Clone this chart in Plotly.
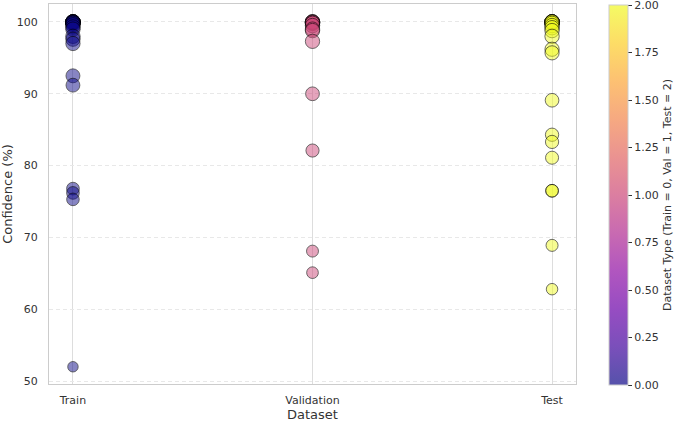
import plotly.graph_objects as go
import numpy as np

categories = ["Train", "Validation", "Test"]

train_conf = [100, 100, 100, 100, 100, 100, 100, 99.9, 99.8, 99.6, 99.3, 99.0,
              98.0, 97.6, 97.0, 92.5, 91.2, 76.8, 76.2, 75.3, 52.0]
val_conf = [100, 100, 100, 99.9, 99.8, 99.5, 99.0, 98.8, 97.3, 90.0, 82.1, 68.1, 65.1]
test_conf = [100, 100, 100, 100, 100, 100, 99.8, 99.5, 99.2, 98.8, 98.0, 96.2, 95.7,
             89.1, 84.3, 83.3, 81.1, 76.5, 76.5, 68.9, 62.8]

cbar_ticks = [0.0, 0.25, 0.5, 0.75, 1.0, 1.25, 1.5, 1.75, 2.0]
y_ticks = [50, 60, 70, 80, 90, 100]

x_vals = [0] * len(train_conf) + [1] * len(val_conf) + [2] * len(test_conf)
y_vals = train_conf + val_conf + test_conf
codes = x_vals

plasma = ["#0d0887", "#41049d", "#6a00a8", "#8f0da4", "#b12a90", "#cc4778",
          "#e16462", "#f2844b", "#fca636", "#fcce25", "#f0f921"]


def rgba(h, a=0.7):
    h = h.lstrip("#")
    r, g, b = int(h[0:2], 16), int(h[2:4], 16), int(h[4:6], 16)
    return f"rgba({r},{g},{b},{a})"


colorscale = [[i / (len(plasma) - 1), rgba(c)] for i, c in enumerate(plasma)]

sizes = [1.45 * np.sqrt(v) for v in y_vals]

font_family = "DejaVu Sans"
tick_color = "#333333"

fig = go.Figure()
fig.add_trace(go.Scatter(
    x=x_vals, y=y_vals, mode="markers",
    marker=dict(
        size=sizes, color=codes, colorscale=colorscale, cmin=0, cmax=2,
        line=dict(color="rgba(0,0,0,0.8)", width=1),
        colorbar=dict(
            x=(609 - 49) / 527, xanchor="left", xpad=0,
            y=1.0 - 1 / 380, yanchor="top", ypad=0,
            lenmode="pixels", len=380, thicknessmode="pixels", thickness=19,
            outlinecolor="#cccccc", outlinewidth=1,
            tickmode="array", tickvals=cbar_ticks,
            ticktext=[f"{t:.2f}" for t in cbar_ticks],
            ticklabeloverflow="allow",
            ticks="outside", ticklen=4, tickcolor=tick_color, tickwidth=1,
            tickfont=dict(family=font_family, size=11, color=tick_color),
            title=dict(text="Dataset Type (Train = 0, Val = 1, Test = 2)", side="right",
                       font=dict(family=font_family, size=11, color=tick_color)),
        ),
    ),
    showlegend=False,
))

fig.update_layout(
    width=680, height=422,
    margin=dict(l=49, r=104, t=4, b=38),
    paper_bgcolor="white", plot_bgcolor="white",
    font=dict(family=font_family, color=tick_color),
)

fig.update_xaxes(
    range=[-0.1, 2.1], tickvals=[0, 1, 2], ticktext=categories,
    showgrid=True, gridcolor="#dddddd", gridwidth=1,
    showline=True, linecolor="#cccccc", linewidth=1, mirror=True,
    zeroline=False, ticks="", ticklabelstandoff=6,
    tickfont=dict(family=font_family, size=11, color=tick_color),
    title=dict(text="Dataset", standoff=0, font=dict(family=font_family, size=13, color=tick_color)),
    automargin=False,
)
fig.update_yaxes(
    range=[49.6, 102.5], tickvals=y_ticks,
    showgrid=True, gridcolor="#e8e8e8", gridwidth=1, griddash="4px,3px",
    showline=True, linecolor="#cccccc", linewidth=1, mirror=True,
    zeroline=False, ticks="", ticklabelstandoff=8,
    tickfont=dict(family=font_family, size=11, color=tick_color),
    title=dict(text="Confidence (%)", standoff=4, font=dict(family=font_family, size=13, color=tick_color)),
    automargin=False,
)

fig.write_html("out.html")
